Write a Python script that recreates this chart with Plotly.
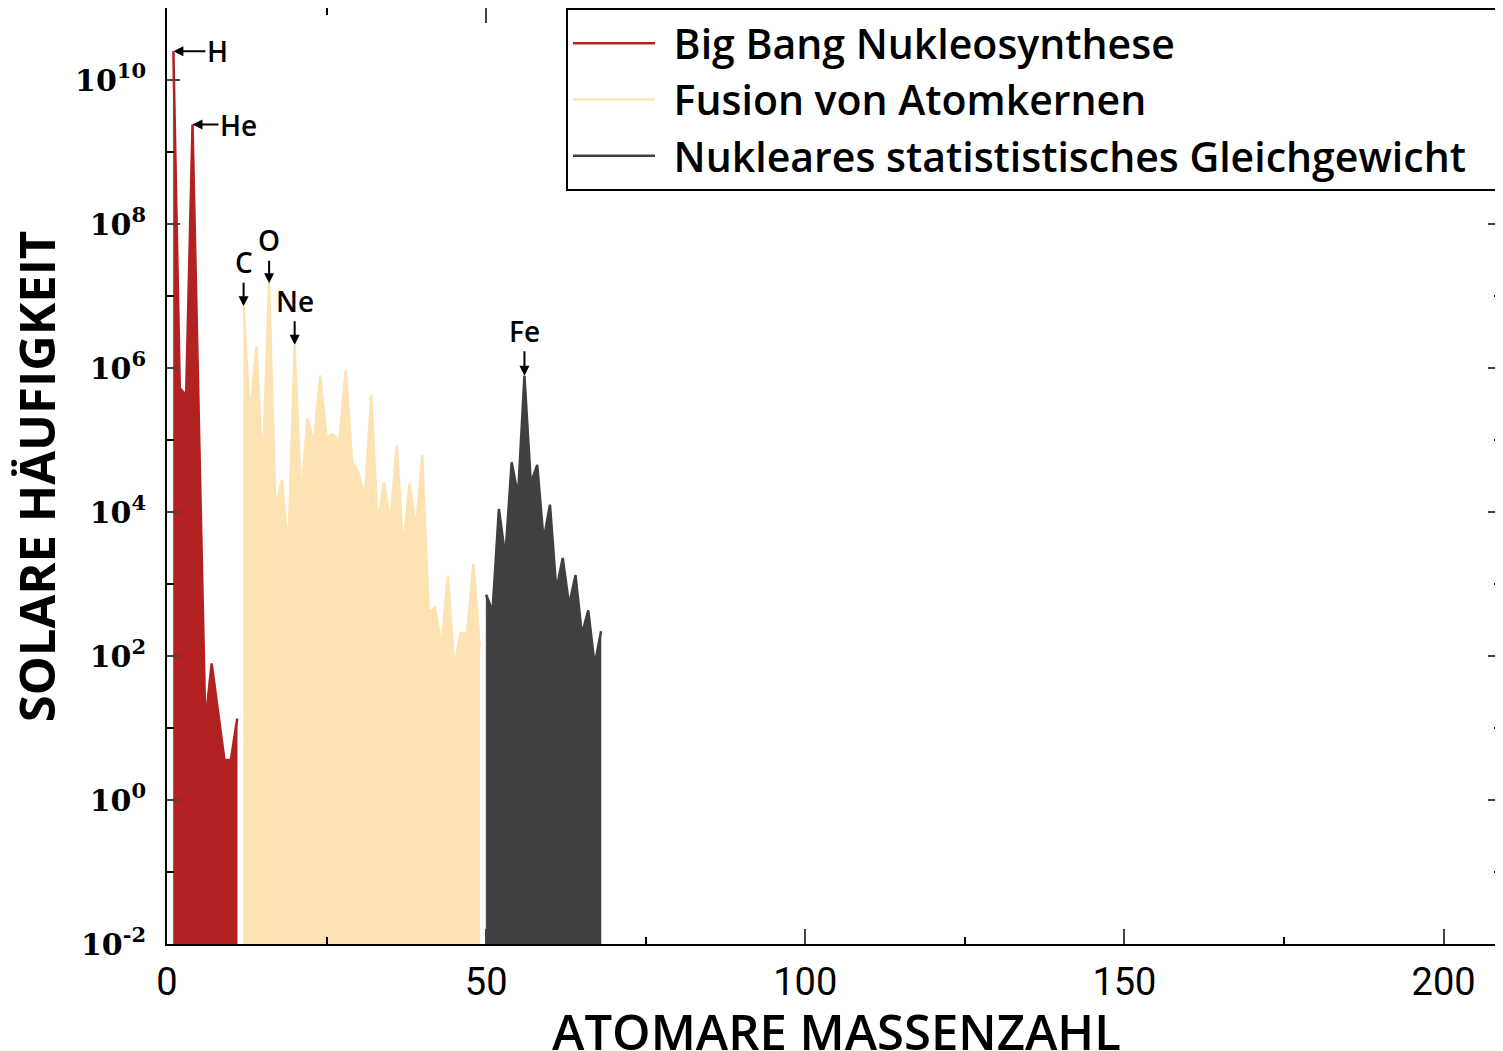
import math
import plotly.graph_objects as go

# Solare Häufigkeiten, Massenzahl A
bbn_A = [1, 2, 3, 4, 6, 7, 9, 10, 11]
bbn_val = [2.5e10, 5.2e5, 4.2e5, 2.4e9, 11.7, 79, 3.6, 3.6, 13.5]

fus_A = list(range(12, 50))
fus_val = [7.2e6, 2.1e5, 2.0e6, 3.8e4, 1.5e7, 1.1e4, 2.8e4, 2.8e3, 2.1e6, 1.5e4,
           2.0e5, 8.9e4, 7.9e5, 1.1e5, 1.2e5, 9.8e4, 9.3e5, 5.0e4, 3.6e4, 1.5e4,
           4.2e5, 6.9e3, 2.6e4, 7.2e3, 8.5e4, 3.0e3, 2.5e4, 5.9e3, 6.2e4, 4.0e2,
           4.7e2, 1.4e2, 1.3e3, 68, 2.1e2, 2.0e2, 1.9e3, 1.35e2]

nse_A = list(range(50, 69))
nse_val = [7.1e2, 4.2e2, 1.1e4, 2.4e3, 4.9e4, 1.7e4, 7.8e5, 2.5e4, 4.5e4, 4.1e3,
           1.26e4, 8.3e2, 2.3e3, 5.1e2, 1.33e3, 2.0e2, 4.3e2, 75, 2.2e2]

series_names = ["Big Bang Nukleosynthese", "Fusion von Atomkernen",
                "Nukleares statististisches Gleichgewicht"]

peak_labels = ["H", "He", "C", "O", "Ne", "Fe"]
peak_A = [1, 4, 12, 16, 20, 56]

x_ticks = [0, 50, 100, 150, 200]
y_exponents = [-2, 0, 2, 4, 6, 8, 10]

# ====== Stil ======
colors = ["#B22222", "#FDE3B4", "#404040"]
FLOOR = 1e-3  # unterhalb der Achse, damit die Flächen bis zum Rand gehen
SANS = "Open Sans"
PAD = "\u2009\u2009"

fig = go.Figure()
groups = [(bbn_A, bbn_val), (fus_A, fus_val), (nse_A, nse_val)]
for (xs, ys), name, col in zip(groups, series_names, colors):
    # Fläche
    fig.add_trace(go.Scatter(
        x=[xs[0]] + xs + [xs[-1]], y=[FLOOR] + ys + [FLOOR],
        mode="lines", fill="toself", fillcolor=col,
        line=dict(color=col, width=0.5), showlegend=False, hoverinfo="skip"))
    # Kontur (Legende)
    fig.add_trace(go.Scatter(
        x=xs, y=ys, mode="lines", name=PAD + name + PAD + PAD,
        line=dict(color=col, width=2.5)))

# Pfeile zu den Elementen
lookup = dict(zip(bbn_A + fus_A + nse_A, bbn_val + fus_val + nse_val))
offsets = {"H": (44, 0), "He": (46, 0), "C": (0, -44), "O": (0, -43),
           "Ne": (0, -44), "Fe": (0, -45)}
for lab, a in zip(peak_labels, peak_A):
    ax, ay = offsets[lab]
    fig.add_annotation(
        x=a, y=math.log10(lookup[a]), text=lab,
        showarrow=True, ax=ax, ay=ay, arrowhead=2, arrowsize=1,
        arrowwidth=2, arrowcolor="black",
        font=dict(family=SANS, size=28, color="black", weight=600))

# Achsentitel
fig.add_annotation(
    text="ATOMARE MASSENZAHL", xref="paper", yref="paper",
    x=0.502, y=-0.093, xanchor="center", yanchor="middle", showarrow=False,
    height=50, font=dict(family=SANS, size=49, color="black", weight=600))
fig.add_annotation(
    text="SOLARE HÄUFIGKEIT", xref="paper", yref="paper", textangle=-90,
    x=-0.098, y=0.5, xanchor="center", yanchor="middle", showarrow=False,
    height=50, font=dict(family=SANS, size=49, color="black", weight=700))

fig.update_xaxes(
    range=[0, 209], tickvals=x_ticks, ticks="inside", ticklen=15, tickwidth=2,
    minor=dict(dtick=25, ticks="inside", ticklen=7, tickwidth=2, tickcolor="black"),
    showline=True, linewidth=2, linecolor="black", mirror="ticks",
    showgrid=False, zeroline=False, ticklabelstandoff=3, automargin=False,
    tickfont=dict(family="Roboto", size=38, color="black"))

fig.update_yaxes(
    type="log", range=[-2, 11],
    tickvals=[10 ** e for e in y_exponents],
    ticktext=[f"10<sup>{e}</sup>" for e in y_exponents],
    ticks="inside", ticklen=13, tickwidth=2,
    minor=dict(tickmode="array", tickvals=[10 ** (e + 1) for e in y_exponents],
               ticks="inside", ticklen=7, tickwidth=2, tickcolor="black"),
    showline=True, linewidth=2, linecolor="black", mirror="ticks",
    showgrid=False, zeroline=False, ticklabelstandoff=13, automargin=False,
    tickfont=dict(family="DejaVu Serif", size=30, color="black", weight="bold"))

# die Seite hat 8 px Rand, daher etwas kleinere Figur
fig.update_layout(
    width=1495, height=1043,
    margin=dict(l=159, r=2, t=0, b=107),
    plot_bgcolor="white", paper_bgcolor="white",
    legend=dict(x=1, xanchor="right", y=1, yanchor="top",
                bgcolor="white", bordercolor="black", borderwidth=2,
                itemwidth=82,
                font=dict(family=SANS, size=41, color="black", weight=600)),
)

fig.write_html("out.html")
